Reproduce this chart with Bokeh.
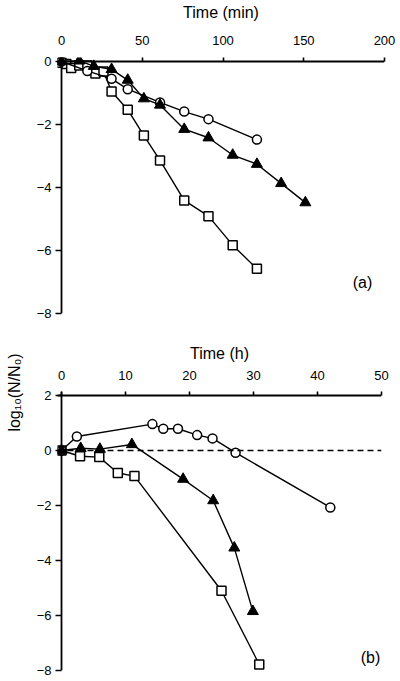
from bokeh.plotting import figure
from bokeh.models import Span, Label, FixedTicker, Range1d
from bokeh.layouts import column, row
from bokeh.embed import file_html
from bokeh.resources import INLINE

# ---------------- data: panel (a), time in minutes ----------------
a_circle_t = [0, 16, 31, 41, 61, 76, 91, 121]
a_circle_y = [0.0, -0.3, -0.55, -0.88, -1.30, -1.59, -1.83, -2.48]

a_tri_t = [0, 11, 20, 31, 41, 51, 61, 76, 91, 106, 121, 136, 151]
a_tri_y = [0.0, 0.02, -0.15, -0.25, -0.59, -1.18, -1.38, -2.15, -2.42, -2.97, -3.26, -3.87, -4.48]

a_sq_t = [0, 3, 6, 11, 16, 21, 26, 31, 41, 51, 61, 76, 91, 106, 121]
a_sq_y = [-0.04, -0.08, -0.21, -0.13, -0.13, -0.38, -0.32, -0.95, -1.53, -2.35, -3.14, -4.41, -4.91, -5.83, -6.58]

a_xticks = [0, 50, 100, 150, 200]
a_yticks = [0, -2, -4, -6, -8]

# ---------------- data: panel (b), time in hours ----------------
b_circle_t = [0, 2.4, 14.2, 15.9, 18.2, 21.2, 23.6, 27.2, 42.0]
b_circle_y = [0.0, 0.51, 0.96, 0.79, 0.79, 0.56, 0.44, -0.08, -2.07]

b_tri_t = [0, 3.0, 6.0, 11.0, 19.0, 23.7, 27.0, 29.9]
b_tri_y = [0.0, 0.08, 0.05, 0.22, -1.04, -1.82, -3.54, -5.85]

b_sq_t = [0, 2.9, 5.9, 8.8, 11.4, 25.0, 30.9]
b_sq_y = [0.0, -0.21, -0.24, -0.82, -0.93, -5.10, -7.78]

b_xticks = [0, 10, 20, 30, 40, 50]
b_yticks = [2, 0, -2, -4, -6, -8]

FONT = "Liberation Sans"
LW = 1.4


def style(p):
    p.outline_line_color = None
    p.grid.grid_line_color = None
    p.background_fill_color = "white"
    p.border_fill_color = "white"
    for ax in p.xaxis:
        ax.axis_line_color = None
        ax.major_tick_in = 4
        ax.major_tick_out = 0
        ax.minor_tick_line_color = None
        ax.major_tick_line_width = 1.6
        ax.major_label_text_font = FONT
        ax.major_label_text_font_size = "13px"
        ax.major_label_text_color = "black"
        ax.axis_label_text_font = FONT
        ax.axis_label_text_font_size = "16px"
        ax.axis_label_text_font_style = "normal"
        ax.axis_label_text_color = "black"
    for ax in p.yaxis:
        ax.axis_line_color = None
        ax.major_tick_in = 4
        ax.major_tick_out = 2
        ax.minor_tick_line_color = None
        ax.major_tick_line_width = 1.6
        ax.major_label_standoff = 4
        ax.major_label_text_font = FONT
        ax.major_label_text_font_size = "13px"
        ax.major_label_text_color = "black"


def series(p, xs, ys, kind):
    p.line(xs, ys, line_color="black", line_width=LW)
    if kind == "circle":
        p.scatter(xs, ys, marker="circle", size=9, fill_color="white",
                  line_color="black", line_width=1.5)
    elif kind == "square":
        p.scatter(xs, ys, marker="square", size=9, fill_color="white",
                  line_color="black", line_width=1.5)
    else:
        p.scatter(xs, ys, marker="triangle", size=11, fill_color="black",
                  line_color="black", line_width=1)


# ---------------- panel (a) ----------------
pa = figure(width=400, height=340, output_backend="svg", toolbar_location=None,
            x_range=Range1d(-2.48, 200), y_range=Range1d(-8, 0.1265),
            x_axis_location="above",
            min_border_left=57, min_border_right=16, min_border_top=56, min_border_bottom=27)
pa.xaxis.ticker = FixedTicker(ticks=a_xticks)
pa.yaxis.ticker = FixedTicker(ticks=a_yticks)
style(pa)
pa.xaxis.major_label_standoff = 13
pa.xaxis.axis_label = "Time (min)"
pa.xaxis.axis_label_standoff = 12
pa.add_layout(Span(location=0, dimension="width", line_color="black", line_width=1.8))
pa.add_layout(Span(location=0, dimension="height", line_color="black", line_width=1.8))
series(pa, a_sq_t, a_sq_y, "square")
series(pa, a_circle_t, a_circle_y, "circle")
series(pa, a_tri_t, a_tri_y, "triangle")
pa.add_layout(Label(x=186.4, y=-7.02, text="(a)", text_align="center", text_baseline="middle",
                    text_font=FONT, text_font_size="16px", text_color="black"))

# ---------------- y-axis title strip beside panel (b) ----------------
plab = figure(width=30, height=341, output_backend="svg", toolbar_location=None,
              x_range=Range1d(0, 30), y_range=Range1d(0, 341),
              x_axis_type=None, y_axis_type=None, min_border=0)
plab.frame_align = False
plab.outline_line_color = None
plab.grid.grid_line_color = None
plab.add_layout(Label(x=14, y=289, text="log\u2081\u2080(N/N\u2080)", angle=1.5708,
                      text_align="center", text_baseline="middle",
                      text_font=FONT, text_font_size="16px", text_color="black"))

# ---------------- panel (b) ----------------
pb = figure(width=370, height=341, output_backend="svg", toolbar_location=None,
            x_range=Range1d(-0.625, 50), y_range=Range1d(-8, 2.1455),
            x_axis_location="above",
            min_border_left=27, min_border_right=19, min_border_top=51, min_border_bottom=11)
pb.xaxis.ticker = FixedTicker(ticks=b_xticks)
pb.yaxis.ticker = FixedTicker(ticks=b_yticks)
style(pb)
pb.xaxis.major_label_standoff = 12
pb.xaxis.axis_label = "Time (h)"
pb.xaxis.axis_label_standoff = 6
pb.add_layout(Span(location=2, dimension="width", line_color="black", line_width=1.8))
pb.add_layout(Span(location=0, dimension="height", line_color="black", line_width=1.8))
pb.add_layout(Span(location=0, dimension="width", line_color="black", line_width=1.4,
                   line_dash="6 4"))
series(pb, b_sq_t, b_sq_y, "square")
series(pb, b_circle_t, b_circle_y, "circle")
series(pb, b_tri_t, b_tri_y, "triangle")
pb.add_layout(Label(x=49.8, y=-7.53, text="(b)", text_align="right", text_baseline="middle",
                    text_font=FONT, text_font_size="16px", text_color="black"))

layout = column(pa, row(plab, pb, spacing=0), spacing=0)
open("out.html", "w").write(file_html(layout, INLINE))
